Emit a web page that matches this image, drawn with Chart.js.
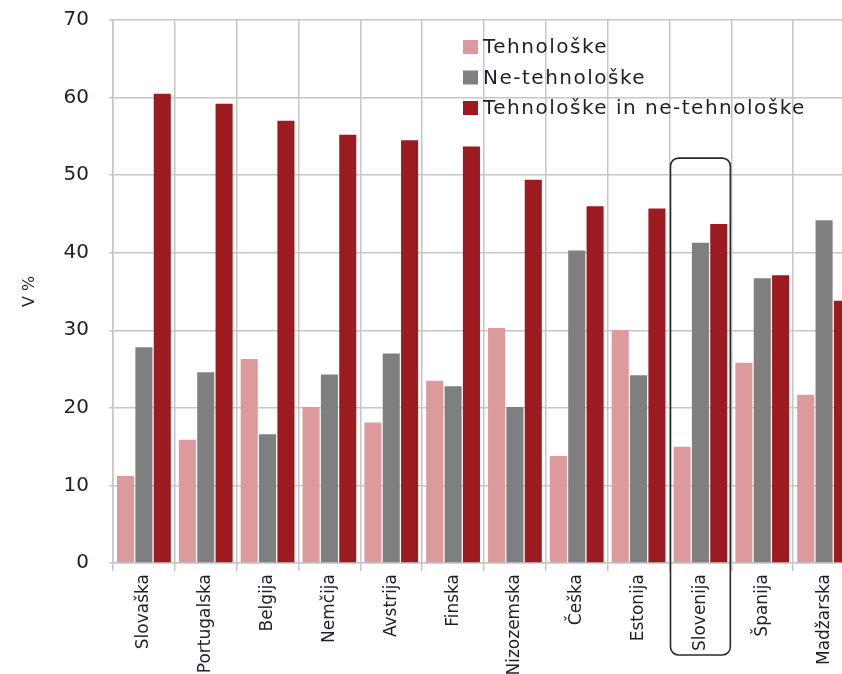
<!DOCTYPE html>
<html>
<head>
<meta charset="utf-8">
<script src="https://cdn.jsdelivr.net/npm/chart.js@4.4.1/dist/chart.umd.min.js"></script>
<style>
  html, body { margin: 0; padding: 0; background: #fff; overflow: hidden; }
  #wrap { position: absolute; left: 0; top: -12px; width: 855px; height: 686px; }
</style>
</head>
<body>
<div id="wrap"><canvas id="c"></canvas></div>
<script>
// Innovation-active enterprises by type of innovation, share in %
const countries = ['Slovaška', 'Portugalska', 'Belgija', 'Nemčija', 'Avstrija', 'Finska',
  'Nizozemska', 'Češka', 'Estonija', 'Slovenija', 'Španija', 'Madžarska'];
const tehnoloske =    [11.2, 15.9, 26.3, 20.1, 18.1, 23.5, 30.3, 13.8, 30.0, 15.0, 25.8, 21.7];
const neTehnoloske =  [27.8, 24.6, 16.6, 24.3, 27.0, 22.8, 20.1, 40.3, 24.2, 41.3, 36.7, 44.2];
const obe =           [60.5, 59.2, 57.0, 55.2, 54.5, 53.7, 49.4, 46.0, 45.7, 43.7, 37.1, 33.8];
const yTicks = [0, 10, 20, 30, 40, 50, 60, 70];
const seriesNames = ['Tehnološke', 'Ne-tehnološke', 'Tehnološke in ne-tehnološke'];
const highlighted = 'Slovenija';

const FONT = 'DejaVu Sans';
const GRID = '#c6c6c6';
const TEXT = '#1e1e2e';

// Legend drawn inside the plot area, stacked vertically
const innerLegend = {
  id: 'innerLegend',
  afterDraw(chart) {
    const ctx = chart.ctx, a = chart.chartArea;
    const x0 = a.left + 350, y0 = a.top + 27, step = 30.5;
    ctx.save();
    ctx.font = '20px "' + FONT + '"';
    if ('letterSpacing' in ctx) ctx.letterSpacing = '1.5px';
    ctx.textBaseline = 'middle';
    chart.data.datasets.forEach((ds, i) => {
      const y = y0 + i * step;
      ctx.fillStyle = ds.backgroundColor;
      ctx.fillRect(x0, y - 7, 15, 14);
      ctx.fillStyle = TEXT;
      ctx.fillText(ds.label, x0 + 20, y + 1);
    });
    ctx.restore();
  }
};

// Rounded frame around the highlighted country, bars and label
const highlightBox = {
  id: 'highlightBox',
  afterDraw(chart) {
    const xs = chart.scales.x, ys = chart.scales.y, a = chart.chartArea;
    const idx = chart.data.labels.indexOf(highlighted);
    if (idx < 0) return;
    const half = (xs.getPixelForValue(1) - xs.getPixelForValue(0)) / 2;
    const cx = xs.getPixelForValue(idx);
    const left = cx - half + 1, right = cx + half - 1;
    const top = ys.getPixelForValue(52.2), bottom = a.bottom + 92;
    const r = 8;
    const ctx = chart.ctx;
    ctx.save();
    ctx.strokeStyle = '#2a2a2a';
    ctx.lineWidth = 1.6;
    ctx.beginPath();
    ctx.moveTo(left + r, top);
    ctx.arcTo(right, top, right, bottom, r);
    ctx.arcTo(right, bottom, left, bottom, r);
    ctx.arcTo(left, bottom, left, top, r);
    ctx.arcTo(left, top, right, top, r);
    ctx.closePath();
    ctx.stroke();
    ctx.restore();
  }
};

const colors = ['#dc9a9c', '#7f7f7f', '#9c1b20'];
const seriesData = [tehnoloske, neTehnoloske, obe];

new Chart(document.getElementById('c'), {
  type: 'bar',
  data: {
    labels: countries,
    datasets: seriesData.map((d, i) => ({
      label: seriesNames[i],
      data: d,
      backgroundColor: colors[i],
      borderWidth: 0,
      barPercentage: 0.93,
      categoryPercentage: 0.89
    }))
  },
  options: {
    responsive: true,
    maintainAspectRatio: false,
    animation: false,
    layout: { padding: { top: 7, right: 0, bottom: 0, left: 0 } },
    plugins: {
      legend: { display: false },
      tooltip: { enabled: false }
    },
    scales: {
      x: {
        grid: { color: GRID, lineWidth: 1.5, tickLength: 8, offset: true },
        border: { color: GRID, width: 1.5 },
        ticks: {
          maxRotation: 90, minRotation: 90, padding: 3, color: TEXT,
          font: { family: FONT, size: 17 }
        },
        afterFit(s) { s.height = 111; }
      },
      y: {
        min: 0, max: 70,
        afterBuildTicks(s) { s.ticks = yTicks.map(v => ({ value: v })); },
        grid: { color: GRID, lineWidth: 1.5, tickLength: 4 },
        border: { color: GRID, width: 1.5 },
        ticks: { padding: 20, color: TEXT, font: { family: FONT, size: 20 } },
        title: {
          display: true, text: 'V %', color: TEXT,
          font: { family: FONT, size: 16 }, padding: { top: 20, bottom: 0 }
        },
        afterFit(s) { s.width = 113; }
      }
    }
  },
  plugins: [innerLegend, highlightBox]
});
</script>
</body>
</html>
